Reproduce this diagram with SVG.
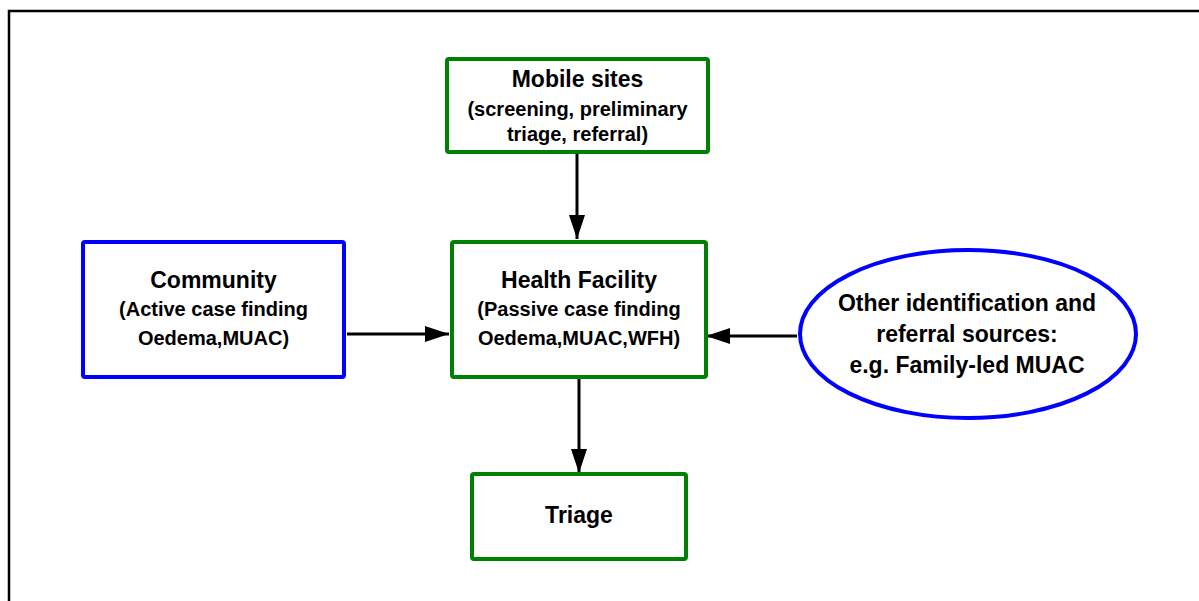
<svg xmlns="http://www.w3.org/2000/svg" width="1199" height="601" viewBox="0 0 1199 601">
  <style>
    .frame { fill: none; stroke: #000; stroke-width: 2.5; }
    .green { fill: #fff; stroke: #008000; stroke-width: 4; }
    .blue { fill: #fff; stroke: #0000ff; stroke-width: 4; }
    .title { font-family: "Liberation Sans", Arial, sans-serif; font-weight: bold; font-size: 23px; fill: #000; text-anchor: middle; }
    .sub { font-family: "Liberation Sans", Arial, sans-serif; font-weight: bold; font-size: 20px; fill: #000; text-anchor: middle; }
    .edge { fill: none; stroke: #000; stroke-width: 3; }
  </style>
  <defs>
    <marker id="arrow" viewBox="0 0 24 16" refX="24" refY="8" markerWidth="24" markerHeight="16" markerUnits="userSpaceOnUse" orient="auto">
      <path d="M0,0 L24,8 L0,16 Z" fill="#000"/>
    </marker>
  </defs>

  <rect x="0" y="0" width="1199" height="601" fill="#fff"/>
  <rect class="frame" x="9" y="11" width="1200" height="600"/>

  <g id="connectors">
    <line class="edge" x1="577" y1="153" x2="577" y2="239" marker-end="url(#arrow)"/>
    <line class="edge" x1="347" y1="334" x2="449" y2="334" marker-end="url(#arrow)"/>
    <line class="edge" x1="797" y1="336" x2="706" y2="336" marker-end="url(#arrow)"/>
    <line class="edge" x1="579" y1="378" x2="579" y2="473" marker-end="url(#arrow)"/>
  </g>

  <g id="mobile-sites">
    <rect class="green" x="447" y="59" width="261" height="93" rx="2"/>
    <text class="title" x="577.5" y="87">Mobile sites</text>
    <text class="sub" x="577.5" y="116">(screening, preliminary</text>
    <text class="sub" x="577.5" y="141">triage, referral)</text>
  </g>

  <g id="community">
    <rect class="blue" x="83" y="242" width="261" height="135" rx="2"/>
    <text class="title" x="213.5" y="288">Community</text>
    <text class="sub" x="213.5" y="316">(Active case finding</text>
    <text class="sub" x="213.5" y="345">Oedema,MUAC)</text>
  </g>

  <g id="health-facility">
    <rect class="green" x="452" y="242" width="254" height="135" rx="2"/>
    <text class="title" x="579" y="288">Health Facility</text>
    <text class="sub" x="579" y="316">(Passive case finding</text>
    <text class="sub" x="579" y="345">Oedema,MUAC,WFH)</text>
  </g>

  <g id="other-sources">
    <ellipse class="blue" cx="968" cy="334" rx="168" ry="84"/>
    <text class="title" x="967" y="311">Other identification and</text>
    <text class="title" x="967" y="342">referral sources:</text>
    <text class="title" x="967" y="373">e.g. Family-led MUAC</text>
  </g>

  <g id="triage">
    <rect class="green" x="472" y="474" width="214" height="85" rx="2"/>
    <text class="title" x="579" y="523">Triage</text>
  </g>
</svg>
